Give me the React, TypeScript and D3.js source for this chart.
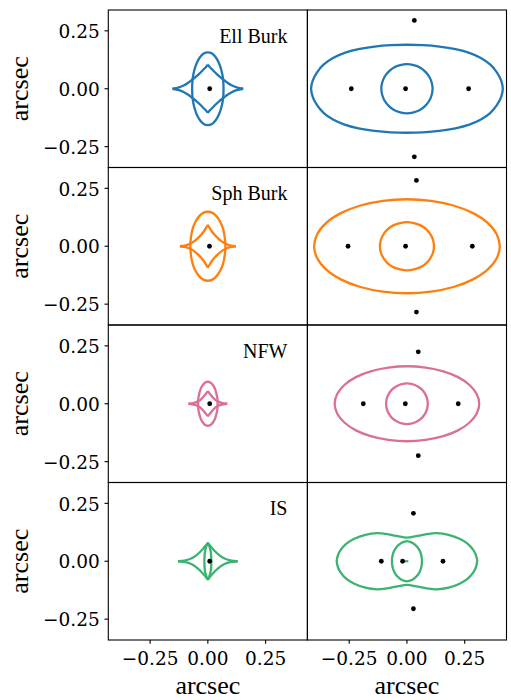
import React from "react";
import * as d3 from "d3";

// ---------- data ----------
const models = ["Ell Burk", "Sph Burk", "NFW", "IS"];
const colors = ["#1f77b4", "#ff7f0e", "#d9709b", "#3cb371"];
const tickValues = [-0.25, 0, 0.25];
const xDomain = [-0.431, 0.431];
const yDomain = [-0.34, 0.34];

// first-quadrant points (from the x-axis to the y-axis); curves are symmetric about both axes
const ellBurkRadialCaustic = [[0.068, 0], [0.066, 0.041], [0.059, 0.079], [0.048, 0.111], [0.034, 0.136], [0.018, 0.152], [0, 0.157]];
const sphBurkRadialCaustic = [[0.076, 0], [0.073, 0.039], [0.066, 0.075], [0.054, 0.105], [0.038, 0.129], [0.02, 0.144], [0, 0.149]];
const nfwRadialCaustic = [[0.042, 0], [0.041, 0.025], [0.036, 0.048], [0.03, 0.067], [0.021, 0.082], [0.011, 0.092], [0, 0.095]];
const isRadialCaustic = [[0.015, 0], [0.0145, 0.02], [0.013, 0.038], [0.01, 0.053], [0.006, 0.066], [0.0025, 0.074], [0, 0.078]];

const ellBurkTangentialCaustic = [[0.153, 0], [0.125, 0.006], [0.105, 0.014], [0.085, 0.026], [0.068, 0.039], [0.05, 0.053], [0.036, 0.066], [0.02, 0.082], [0.008, 0.094], [0, 0.104]];
const sphBurkTangentialCaustic = [[0.121, 0], [0.095, 0.004], [0.075, 0.012], [0.058, 0.022], [0.042, 0.036], [0.029, 0.05], [0.016, 0.066], [0.006, 0.082], [0, 0.093]];
const nfwTangentialCaustic = [[0.084, 0], [0.06, 0.004], [0.045, 0.009], [0.032, 0.017], [0.021, 0.028], [0.011, 0.04], [0.004, 0.049], [0, 0.055]];
const isTangentialCaustic = [[0.129, 0], [0.097, 0.004], [0.072, 0.012], [0.052, 0.024], [0.034, 0.04], [0.019, 0.056], [0.007, 0.07], [0, 0.079]];

const ellBurkTangentialCritical = [[0.415, 0], [0.408, 0.035], [0.39, 0.07], [0.36, 0.105], [0.32, 0.133], [0.27, 0.155], [0.21, 0.171], [0.14, 0.182], [0.07, 0.188], [0, 0.19]];
const sphBurkTangentialCritical = [[0.402, 0], [0.388, 0.053], [0.348, 0.102], [0.284, 0.144], [0.201, 0.176], [0.104, 0.196], [0, 0.203]];
const nfwTangentialCritical = [[0.313, 0], [0.302, 0.042], [0.271, 0.081], [0.221, 0.115], [0.157, 0.14], [0.081, 0.156], [0, 0.162]];
const isTangentialCritical = [[0.304, 0], [0.298, 0.028], [0.286, 0.05], [0.262, 0.076], [0.228, 0.097], [0.18, 0.114], [0.13, 0.121], [0.085, 0.117], [0.04, 0.108], [0, 0.102]];

const ellBurkRadialCritical = [[0.111, 0], [0.107, 0.027], [0.096, 0.053], [0.078, 0.075], [0.056, 0.092], [0.029, 0.102], [0, 0.106]];
const sphBurkRadialCritical = [[0.117, 0], [0.113, 0.027], [0.101, 0.052], [0.083, 0.074], [0.059, 0.09], [0.03, 0.1], [0, 0.104]];
const nfwRadialCritical = [[0.09, 0], [0.087, 0.023], [0.078, 0.044], [0.064, 0.062], [0.045, 0.076], [0.023, 0.085], [0, 0.088]];
const isRadialCritical = [[0.065, 0], [0.063, 0.022], [0.056, 0.044], [0.043, 0.064], [0.025, 0.079], [0.01, 0.085], [0, 0.087]];

const isCriticalSegment = [[-0.012, 0], [0.006, 0]];

const sources = [[0.008, 0], [0.007, 0], [0.008, 0], [0.008, 0]];

const ellBurkImages = [[0.032, 0.295], [-0.006, 0], [-0.241, 0], [0.267, 0], [0.032, -0.294]];
const sphBurkImages = [[0.041, 0.284], [-0.006, 0], [-0.255, 0], [0.283, 0], [0.041, -0.284]];
const nfwImages = [[0.049, 0.224], [-0.007, 0], [-0.189, 0], [0.222, 0], [0.049, -0.224]];
const isImages = [[0.028, 0.207], [-0.019, 0], [-0.111, 0], [0.156, 0], [0.028, -0.205]];

const radialCaustics = [ellBurkRadialCaustic, sphBurkRadialCaustic, nfwRadialCaustic, isRadialCaustic];
const tangentialCaustics = [ellBurkTangentialCaustic, sphBurkTangentialCaustic, nfwTangentialCaustic, isTangentialCaustic];
const tangentialCriticals = [ellBurkTangentialCritical, sphBurkTangentialCritical, nfwTangentialCritical, isTangentialCritical];
const radialCriticals = [ellBurkRadialCritical, sphBurkRadialCritical, nfwRadialCritical, isRadialCritical];
const imageSets = [ellBurkImages, sphBurkImages, nfwImages, isImages];

// ---------- layout ----------
const W = 511;
const H = 700;
const colLeft = [108.3, 307.4];
const panelW = 199.1;
const rowTop = [10, 167.5, 325, 482.5];
const panelH = 157.5;

type P = number[];

function closedLoop(q: P[]): P[] {
  const n = q.length - 1;
  const q2 = q.slice(0, n).reverse().map(([x, y]) => [-x, y]);
  const q3 = q.slice(1).map(([x, y]) => [-x, -y]);
  const q4 = q.slice(1, n).reverse().map(([x, y]) => [x, -y]);
  return [...q, ...q2, ...q3, ...q4];
}

function cuspArcs(q: P[]): P[][] {
  return [
    q,
    q.map(([x, y]) => [-x, y]),
    q.map(([x, y]) => [-x, -y]),
    q.map(([x, y]) => [x, -y]),
  ];
}

const tickFmt = d3.format(".2f");

function Panel({ row, col }: { row: number; col: number }) {
  const x0 = colLeft[col];
  const y0 = rowTop[row];
  const xs = d3.scaleLinear().domain(xDomain).range([x0, x0 + panelW]);
  const ys = d3.scaleLinear().domain(yDomain).range([y0 + panelH, y0]);
  const closed = d3
    .line<P>()
    .x((d) => xs(d[0]))
    .y((d) => ys(d[1]))
    .curve(d3.curveCatmullRomClosed);
  const open = d3
    .line<P>()
    .x((d) => xs(d[0]))
    .y((d) => ys(d[1]))
    .curve(d3.curveCatmullRom);
  const straight = d3
    .line<P>()
    .x((d) => xs(d[0]))
    .y((d) => ys(d[1]));
  const color = colors[row];
  const sw = 2.3;
  const dotR = 2.4;

  return (
    <g>
      {col === 0 ? (
        <g>
          <path d={closed(closedLoop(radialCaustics[row])) || ""} fill="none" stroke={color} strokeWidth={sw} />
          {cuspArcs(tangentialCaustics[row]).map((arc, i) => (
            <path key={i} d={open(arc) || ""} fill="none" stroke={color} strokeWidth={sw} />
          ))}
          <circle cx={xs(sources[row][0])} cy={ys(sources[row][1])} r={dotR} fill="black" />
          <text
            x={xs(xDomain[0]) + 0.9 * panelW}
            y={y0 + 32.5}
            textAnchor="end"
            fontFamily="'Liberation Serif', 'Times New Roman', serif"
            fontSize={20}
            fill="black"
          >
            {models[row]}
          </text>
        </g>
      ) : (
        <g>
          <path d={closed(closedLoop(tangentialCriticals[row])) || ""} fill="none" stroke={color} strokeWidth={sw} />
          <path d={closed(closedLoop(radialCriticals[row])) || ""} fill="none" stroke={color} strokeWidth={sw} />
          {row === 3 ? (
            <path d={straight(isCriticalSegment) || ""} fill="none" stroke={color} strokeWidth={sw} />
          ) : null}
          {imageSets[row].map((p, i) => (
            <circle key={i} cx={xs(p[0])} cy={ys(p[1])} r={dotR} fill="black" />
          ))}
        </g>
      )}
      <rect x={x0} y={y0} width={panelW} height={panelH} fill="none" stroke="black" strokeWidth={1.1} />
      {col === 0
        ? tickValues.map((t) => (
            <g key={"y" + t}>
              <line x1={x0} x2={x0 - 3.8} y1={ys(t)} y2={ys(t)} stroke="black" strokeWidth={1.1} />
              <text
                x={x0 - 8.5}
                y={ys(t) + 7.2}
                textAnchor="end"
                fontFamily="'DejaVu Serif', serif"
                fontSize={18.5}
                fill="black"
              >
                {tickFmt(t)}
              </text>
            </g>
          ))
        : null}
      {row === 3
        ? tickValues.map((t) => (
            <g key={"x" + t}>
              <line x1={xs(t)} x2={xs(t)} y1={y0 + panelH} y2={y0 + panelH + 3.8} stroke="black" strokeWidth={1.1} />
              <text
                x={xs(t)}
                y={y0 + panelH + 25}
                textAnchor="middle"
                fontFamily="'DejaVu Serif', serif"
                fontSize={18.5}
                fill="black"
              >
                {tickFmt(t)}
              </text>
            </g>
          ))
        : null}
    </g>
  );
}

export default function App() {
  const labelFont = "'Liberation Serif', 'Times New Roman', serif";
  return (
    <svg
      width={W}
      height={H}
      viewBox={`0 0 ${W} ${H}`}
      style={{ position: "absolute", left: 0, top: 0, background: "white" }}
    >
      <rect x={0} y={0} width={W} height={H} fill="white" />
      {models.map((m, row) => (
        <g key={m}>
          <Panel row={row} col={0} />
          <Panel row={row} col={1} />
          <text
            transform={`translate(28.3, ${rowTop[row] + panelH / 2}) rotate(-90)`}
            textAnchor="middle"
            fontFamily={labelFont}
            fontSize={26}
            fill="black"
          >
            arcsec
          </text>
        </g>
      ))}
      {colLeft.map((cx, i) => (
        <text
          key={i}
          x={cx + panelW / 2}
          y={694}
          textAnchor="middle"
          fontFamily={labelFont}
          fontSize={26}
          fill="black"
        >
          arcsec
        </text>
      ))}
    </svg>
  );
}
